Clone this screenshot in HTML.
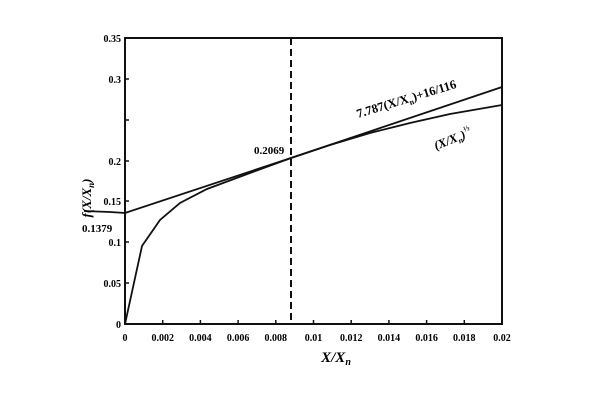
<!DOCTYPE html>
<html><head><meta charset="utf-8"><style>body{margin:0;background:#fff}</style></head><body>
<svg width="600" height="400" xmlns="http://www.w3.org/2000/svg" font-family="Liberation Serif, serif" font-weight="bold">
<rect width="600" height="400" fill="#fff"/>
<rect x="125" y="38" width="377" height="286" fill="none" stroke="#111" stroke-width="2"/>
<g stroke="#111" stroke-width="1.5">
<line x1="162.7" y1="324" x2="162.7" y2="320"/><line x1="200.4" y1="324" x2="200.4" y2="320"/><line x1="238.1" y1="324" x2="238.1" y2="320"/><line x1="275.8" y1="324" x2="275.8" y2="320"/><line x1="313.5" y1="324" x2="313.5" y2="320"/><line x1="351.2" y1="324" x2="351.2" y2="320"/><line x1="388.9" y1="324" x2="388.9" y2="320"/><line x1="426.6" y1="324" x2="426.6" y2="320"/><line x1="464.3" y1="324" x2="464.3" y2="320"/>
<line x1="125" y1="283" x2="129" y2="283"/><line x1="125" y1="242" x2="129" y2="242"/><line x1="125" y1="201" x2="129" y2="201"/><line x1="125" y1="161" x2="129" y2="161"/><line x1="125" y1="120" x2="129" y2="120"/><line x1="125" y1="79" x2="129" y2="79"/>
</g>
<line x1="291" y1="38" x2="291" y2="324" stroke="#111" stroke-width="2" stroke-dasharray="7,4"/>
<polyline fill="none" stroke="#111" stroke-width="1.8" points="84,211 110,212 125,213 291,158 502,87"/>
<polyline fill="none" stroke="#111" stroke-width="1.8" points="125,324 142,246 160,220 180,203 207,189 250,173 291,158 330,145 370,133 410,123 450,114 502,105"/>
<g font-size="10" text-anchor="middle">
<text x="125" y="341">0</text><text x="162.7" y="341">0.002</text><text x="200.4" y="341">0.004</text><text x="238.1" y="341">0.006</text><text x="275.8" y="341">0.008</text><text x="313.5" y="341">0.01</text><text x="351.2" y="341">0.012</text><text x="388.9" y="341">0.014</text><text x="426.6" y="341">0.016</text><text x="464.3" y="341">0.018</text><text x="502" y="341">0.02</text>
</g>
<g font-size="10" text-anchor="end">
<text x="121" y="328">0</text><text x="121" y="287">0.05</text><text x="121" y="246">0.1</text><text x="121" y="205">0.15</text><text x="121" y="165">0.2</text><text x="121" y="83">0.3</text><text x="121" y="42">0.35</text>
</g>
<text x="82" y="232" font-size="11">0.1379</text>
<text x="254" y="154" font-size="11">0.2069</text>
<text x="336" y="362" font-size="15" font-style="italic" text-anchor="middle">X/X<tspan font-size="10" dy="3">n</tspan></text>
<text transform="translate(91,198) rotate(-90)" font-size="13" font-style="italic" text-anchor="middle">f(X/X<tspan font-size="9" dy="3">n</tspan><tspan dy="-3">)</tspan></text>
<text transform="translate(358,118) rotate(-17)" font-size="12.5">7.787(X/X<tspan font-size="8" dy="3">n</tspan><tspan dy="-3">)+16/116</tspan></text>
<text transform="translate(436,150) rotate(-22)" font-size="12.5" font-style="italic">(X/X<tspan font-size="8" dy="3">n</tspan><tspan dy="-3">)</tspan><tspan font-size="8" dy="-6">⅓</tspan></text>
</svg>
</body></html>
